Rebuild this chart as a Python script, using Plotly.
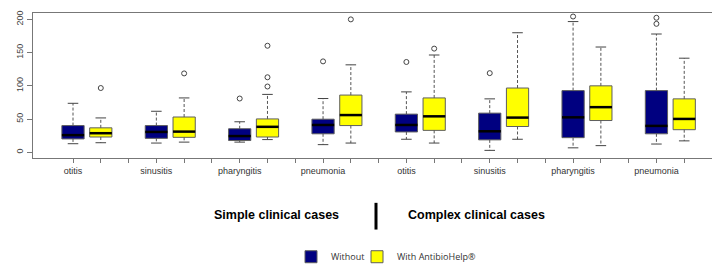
import plotly.graph_objects as go

categories = ["otitis", "sinusitis", "pharyngitis", "pneumonia",
              "otitis", "sinusitis", "pharyngitis", "pneumonia"]
group_labels = ["Simple clinical cases", "Complex clinical cases"]
series_names = ["Without", "With AntibioHelp®"]

# Without AntibioHelp (navy)
without_low = [12.9, 13.9, 15.3, 11.5, 19.6, 2.9, 6.7, 12.4]
without_q1 = [20.1, 21.0, 17.7, 27.8, 30.6, 18.7, 22.0, 27.8]
without_med = [25.8, 30.6, 24.4, 41.1, 41.1, 31.6, 52.6, 39.7]
without_q3 = [40.2, 40.2, 35.4, 49.8, 57.4, 58.9, 92.8, 92.8]
without_high = [73.7, 61.7, 45.9, 80.9, 90.9, 80.4, 196.7, 178.0]
without_out = [[], [], [80.9], [136.8], [135.9], [119.1], [204.3], [202.4, 193.3]]

# With AntibioHelp (yellow)
with_low = [14.4, 15.3, 19.1, 13.9, 13.9, 19.6, 10.0, 17.2]
with_q1 = [23.0, 22.5, 23.0, 40.2, 33.0, 38.8, 47.8, 34.0]
with_med = [28.7, 31.1, 38.3, 56.0, 54.1, 52.2, 67.9, 50.2]
with_q3 = [36.8, 53.1, 50.2, 86.1, 81.8, 96.7, 100.0, 80.4]
with_high = [51.7, 81.8, 87.1, 131.6, 146.4, 179.9, 158.4, 141.6]
with_out = [[96.7], [118.7], [160.3, 112.9, 99.0], [200.0], [156.0], [], [], []]

y_ticks = [0, 50, 100, 150, 200]

BOXW = 0.8
CAP = 0.19
W_PX, H_PX = 720, 269
L, R, T, B = 25, 6, 5, 112

n = len(categories)
pos_without = [3 * i + 1 for i in range(n)]
pos_with = [3 * i + 2 for i in range(n)]

fig = go.Figure()

series = [
    (series_names[0], "#000080", "legend", pos_without, without_low, without_q1, without_med, without_q3, without_high, without_out),
    (series_names[1], "#FFFF00", "legend2", pos_with, with_low, with_q1, with_med, with_q3, with_high, with_out),
]

for name, color, lg, pos, lo, q1, med, q3, hi, outs in series:
    fig.add_trace(go.Bar(
        x=pos, y=[b - a for a, b in zip(q1, q3)], base=q1, width=BOXW,
        marker=dict(color=color, line=dict(color="#5e5e5e", width=1)),
        name=name, showlegend=True, legend=lg, hoverinfo="skip"))

for name, color, lg, pos, lo, q1, med, q3, hi, outs in series:
    wx, wy, cx, cy, mx, my, ox, oy = [], [], [], [], [], [], [], []
    for p, a, b, c, d, e, o in zip(pos, lo, q1, med, q3, hi, outs):
        wx += [p, p, None, p, p, None]
        wy += [d, e, None, b, a, None]
        cx += [p - CAP, p + CAP, None, p - CAP, p + CAP, None]
        cy += [e, e, None, a, a, None]
        mx += [p - BOXW / 2, p + BOXW / 2, None]
        my += [c, c, None]
        ox += [p] * len(o)
        oy += list(o)
    fig.add_trace(go.Scatter(x=wx, y=wy, mode="lines", showlegend=False, hoverinfo="skip",
                             line=dict(color="#555555", width=1, dash="3px,2px")))
    fig.add_trace(go.Scatter(x=cx, y=cy, mode="lines", showlegend=False, hoverinfo="skip",
                             line=dict(color="#444444", width=1)))
    fig.add_trace(go.Scatter(x=mx, y=my, mode="lines", showlegend=False, hoverinfo="skip",
                             line=dict(color="#000000", width=2.5)))
    fig.add_trace(go.Scatter(x=ox, y=oy, mode="markers", showlegend=False, hoverinfo="skip",
                             marker=dict(symbol="circle-open", size=5, color="#444444",
                                         line=dict(width=1))))

tickvals = list(range(1, 3 * n))
ticktext = [""] * len(tickvals)
for i, c in enumerate(categories):
    ticktext[pos_without[i] - 1] = c

pw = W_PX - L - R
ph = H_PX - T - B


def px_x(x):
    return (x - L) / pw


def px_y(y):
    return (H_PX - B - y) / ph


legend_font = dict(family="Open Sans, sans-serif", size=9, color="#333333")

fig.update_layout(
    width=W_PX, height=H_PX,
    margin=dict(l=L, r=R, t=T, b=B),
    paper_bgcolor="white", plot_bgcolor="white",
    barmode="overlay",
    font=dict(family="Liberation Sans, Arial, sans-serif", size=9, color="#333333"),
    xaxis=dict(range=[-0.44, 24.36], tickvals=tickvals, ticktext=ticktext, automargin=False,
               showgrid=False, zeroline=False, showline=True, mirror=True,
               linecolor="#777777", linewidth=1, ticks="outside", ticklen=4,
               tickcolor="#777777", tickfont=dict(size=9, color="#333333")),
    yaxis=dict(range=[-8.6, 209.6], tickvals=y_ticks, showgrid=False, zeroline=False,
               automargin=False,
               showline=True, mirror=True, linecolor="#777777", linewidth=1,
               ticks="outside", ticklen=5, tickcolor="#777777", tickangle=-90,
               tickfont=dict(size=9, color="#444444")),
    legend=dict(orientation="h", x=px_x(283), xanchor="left", y=px_y(260.5), yanchor="middle",
                font=legend_font, bgcolor="rgba(0,0,0,0)"),
    legend2=dict(orientation="h", x=px_x(349), xanchor="left", y=px_y(260.5), yanchor="middle",
                 font=legend_font, bgcolor="rgba(0,0,0,0)"),
    annotations=[
        dict(text="<b>" + group_labels[0] + "</b>", x=px_x(268), y=px_y(217), xref="paper", yref="paper",
             showarrow=False, xanchor="center", yanchor="middle",
             font=dict(family="Liberation Sans, Arial, sans-serif", size=12.5, color="#000000")),
        dict(text="<b>" + group_labels[1] + "</b>", x=px_x(468), y=px_y(217), xref="paper", yref="paper",
             showarrow=False, xanchor="center", yanchor="middle",
             font=dict(family="Liberation Sans, Arial, sans-serif", size=12.5, color="#000000")),
    ],
    shapes=[dict(type="line", xref="paper", yref="paper", x0=px_x(368), x1=px_x(368),
                 y0=px_y(204), y1=px_y(232), line=dict(color="#000000", width=3))],
)

fig.write_html("out.html")
